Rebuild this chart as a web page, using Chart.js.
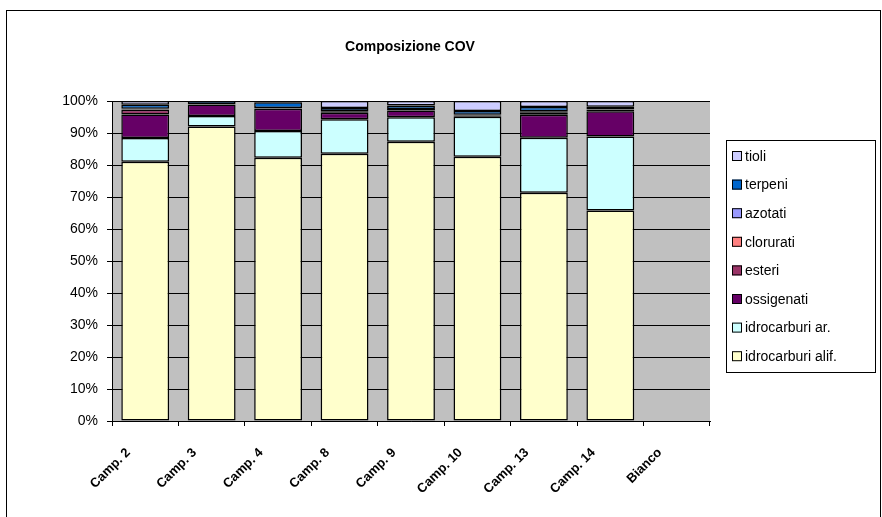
<!DOCTYPE html>
<html>
<head>
<meta charset="utf-8">
<script src="https://cdn.jsdelivr.net/npm/chart.js@4"></script>
<style>
  html, body { margin: 0; padding: 0; background: #fff; }
  #wrap { width: 882px; height: 517px; }
</style>
</head>
<body>
<div id="wrap"><canvas id="cov" width="882" height="517"></canvas></div>
<script>
// Composizione COV - percentuali per campione
const categories = ["Camp. 2", "Camp. 3", "Camp. 4", "Camp. 8", "Camp. 9", "Camp. 10", "Camp. 13", "Camp. 14", "Bianco"];

const idrocarburiAlif = [81.0, 92.0, 82.3, 83.5, 87.3, 82.6, 71.3, 65.8, null];
const idrocarburiAr   = [7.4, 3.3, 8.3, 10.8, 7.6, 12.5, 17.2, 23.1, null];
const ossigenati      = [7.4, 3.6, 7.0, 2.0, 2.1, 0.4, 7.2, 7.9, null];
const esteri          = [1.5, 0.1, 0.1, 0.3, 0.2, 0.1, 0.8, 0.5, null];
const clorurati       = [0.1, null, null, null, null, null, 0.1, null, null];
const azotati         = [0.2, null, 0.1, 0.2, 0.3, 0.1, 0.2, 0.1, null];
const terpeni         = [1.2, 1.0, 1.8, 1.0, 1.1, 1.2, 1.3, 0.8, null];
const tioli           = [1.2, null, 0.4, 2.2, 1.4, 3.1, 1.9, 1.8, null];

const yTicks = [0, 10, 20, 30, 40, 50, 60, 70, 80, 90, 100];

const seriesNames  = ["idrocarburi alif.", "idrocarburi ar.", "ossigenati", "esteri", "clorurati", "azotati", "terpeni", "tioli"];
const seriesValues = [idrocarburiAlif, idrocarburiAr, ossigenati, esteri, clorurati, azotati, terpeni, tioli];
const seriesColors = ["#FFFFCC", "#CCFFFF", "#660066", "#993366", "#FF8080", "#9999FF", "#0066CC", "#CCCCFF"];

const datasets = seriesNames.map((name, i) => ({
    label: name,
    data: seriesValues[i],
    backgroundColor: seriesColors[i],
    borderColor: "#000",
    borderWidth: 1.5,
    borderSkipped: false,
    categoryPercentage: 1.0,
    barPercentage: 0.72
}));

// sfondo grigio dell'area del grafico + cornice esterna + titolo + legenda
const decorations = {
    id: "decorations",
    beforeDraw(chart) {
        const { ctx, chartArea: a } = chart;
        ctx.save();
        ctx.fillStyle = "#fff";
        ctx.fillRect(0, 0, chart.width, chart.height);
        ctx.fillStyle = "#C0C0C0";
        ctx.fillRect(a.left, a.top, a.right - a.left, a.bottom - a.top);
        ctx.restore();
    },
    afterDraw(chart) {
        const ctx = chart.ctx;
        ctx.save();
        ctx.strokeStyle = "#000";
        ctx.lineWidth = 1;
        ctx.strokeRect(6.5, 10.5, 874, 510);

        ctx.fillStyle = "#000";
        ctx.font = "bold 14px Arial, 'Liberation Sans', sans-serif";
        ctx.textAlign = "center";
        ctx.textBaseline = "middle";
        ctx.fillText("Composizione COV", 410, 47);

        // legenda
        ctx.strokeRect(726.5, 140.5, 149, 232);
        ctx.font = "14px Arial, 'Liberation Sans', sans-serif";
        ctx.textAlign = "left";
        const ds = chart.data.datasets.slice().reverse();
        ds.forEach((d, i) => {
            const y = 156 + i * 28.6;
            ctx.fillStyle = d.backgroundColor;
            ctx.fillRect(732, y - 5, 10, 10);
            ctx.strokeStyle = "#000";
            ctx.strokeRect(732.5, y - 4.5, 9, 9);
            ctx.fillStyle = "#000";
            ctx.fillText(d.label, 745, y + 1);
        });
        ctx.restore();
    }
};

new Chart(document.getElementById("cov").getContext("2d"), {
    type: "bar",
    data: { labels: categories, datasets: datasets },
    options: {
        responsive: false,
        animation: false,
        layout: { padding: { left: 0, top: 101, right: 172, bottom: 0 } },
        plugins: {
            legend: { display: false },
            title: { display: false },
            tooltip: { enabled: false }
        },
        scales: {
            x: {
                stacked: true,
                offset: true,
                afterFit(scale) { scale.height = 96; },
                grid: {
                    offset: true,
                    drawOnChartArea: false,
                    drawTicks: true,
                    tickLength: 5,
                    color: "#000"
                },
                border: { color: "#000", width: 1 },
                ticks: {
                    color: "#000",
                    font: { family: "Arial, 'Liberation Sans', sans-serif", size: 13, weight: "bold" },
                    minRotation: 45,
                    maxRotation: 45,
                    labelOffset: -17,
                    padding: 19
                }
            },
            y: {
                stacked: true,
                min: 0,
                max: 100,
                afterFit(scale) { scale.width = 112; },
                afterBuildTicks(scale) { scale.ticks = yTicks.map(v => ({ value: v })); },
                grid: {
                    color: "#000",
                    tickLength: 5,
                    drawTicks: true
                },
                border: { color: "#000", width: 1 },
                ticks: {
                    color: "#000",
                    font: { family: "Arial, 'Liberation Sans', sans-serif", size: 14 },
                    padding: 9,
                    callback: v => v + "%"
                }
            }
        }
    },
    plugins: [decorations]
});
</script>
</body>
</html>
